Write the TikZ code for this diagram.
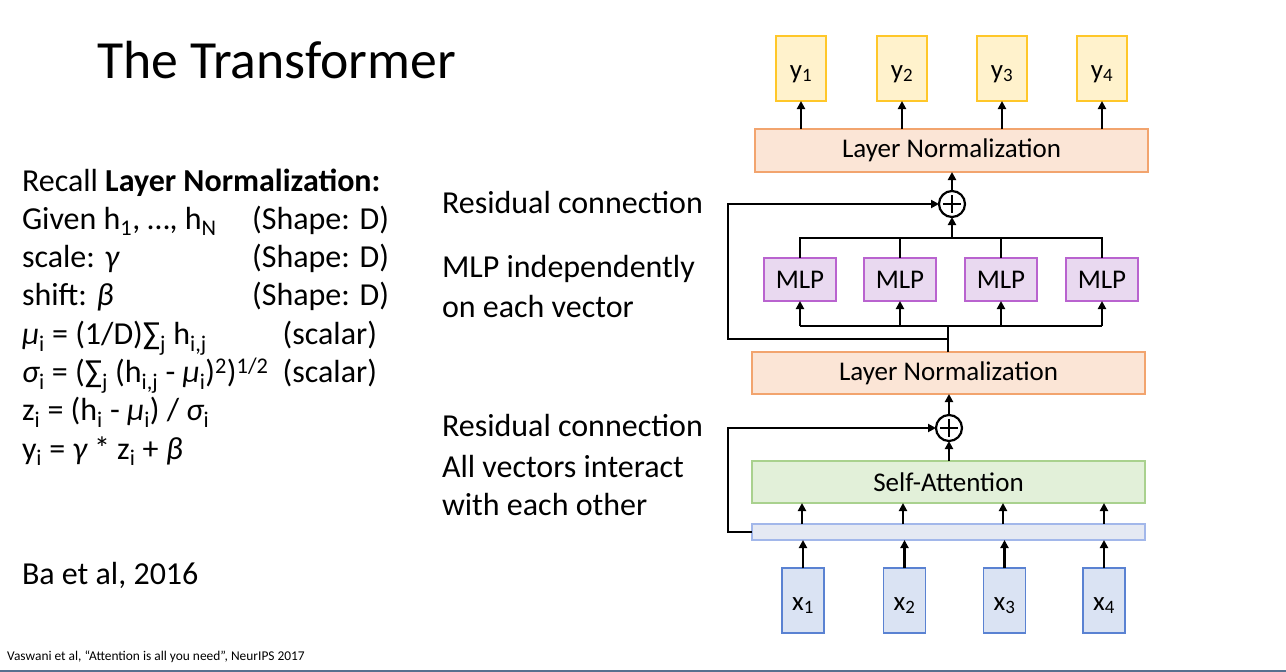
\documentclass[tikz,border=0pt]{standalone}
\usepackage{fontspec}
\setmainfont{Carlito}
\usetikzlibrary{arrows.meta}
\definecolor{yfill}{HTML}{FFF2CC}
\definecolor{ydraw}{HTML}{FFC729}
\definecolor{lnfill}{HTML}{FBE5D6}
\definecolor{lndraw}{HTML}{F2A46E}
\definecolor{mfill}{HTML}{E9D9F0}
\definecolor{mdraw}{HTML}{B963CF}
\definecolor{safill}{HTML}{E2F0D9}
\definecolor{sadraw}{HTML}{A9D18E}
\definecolor{barfill}{HTML}{E5E9F3}
\definecolor{bardraw}{HTML}{A2B7EA}
\definecolor{xfill}{HTML}{DAE3F3}
\definecolor{xdraw}{HTML}{5A82D2}
\definecolor{botline}{HTML}{56708F}
\newcommand\sbs[1]{\textsubscript{#1}}
\newcommand\sps[1]{\textsuperscript{#1}}
\begin{document}
\begin{tikzpicture}[x=1pt,y=-1pt,
  lt/.style={font=\fontsize{32}{38}\selectfont, inner sep=0pt, outer sep=0pt},
  bx/.style={draw, line width=1.5pt, inner sep=0pt, outer sep=0pt, font=\fontsize{27}{31}\selectfont},
  ybox/.style={bx, fill=yfill, draw=ydraw, minimum width=50pt, minimum height=65pt, text height=19pt, text depth=0pt},
  xbox/.style={bx, fill=xfill, draw=xdraw, minimum width=42pt, minimum height=65pt, text height=19pt, text depth=0pt},
  lnbox/.style={bx, fill=lnfill, draw=lndraw, minimum width=393pt, minimum height=43pt},
  mlpbox/.style={bx, fill=mfill, draw=mdraw, minimum width=72pt, minimum height=43pt},
  sabox/.style={bx, fill=safill, draw=sadraw, minimum width=393pt, minimum height=42pt},
  barbox/.style={bx, fill=barfill, draw=bardraw, minimum width=393pt, minimum height=16pt},
  pluscirc/.style={circle, draw, line width=2.2pt, minimum size=26pt, inner sep=0pt, outer sep=0pt, fill=white},
  conn/.style={line width=2.5pt},
  arr/.style={line width=2.5pt, -{Triangle[length=8pt,width=8pt]}}
]
\useasboundingbox (0,0) rectangle (1286,672);

% title
\node[anchor=base west, font=\fontsize{53.7}{60}\selectfont, inner sep=0pt] (title) at (97,78) {The Transformer};

% left text
\node[lt, anchor=base west] (l1) at (22,191) {Recall \textbf{Layer Normalization:}};
\node[lt, anchor=base west] (l2) at (22,229.3) {Given h\sbs{1}, …, h\sbs{N}};
\node[lt, anchor=base east] (l2b) at (389,229.3) {(Shape: D)};
\node[lt, anchor=base west] (l3) at (22,267.6) {scale: {\itshape γ}};
\node[lt, anchor=base east] (l3b) at (389,267.6) {(Shape: D)};
\node[lt, anchor=base west] (l4) at (22,305.9) {shift: {\itshape β}};
\node[lt, anchor=base east] (l4b) at (389,305.9) {(Shape: D)};
\node[lt, anchor=base west] (l5) at (22,344.2) {{\itshape μ}\sbs{i} = (1/D)∑\sbs{j} h\sbs{i,j}};
\node[lt, anchor=base east] (l5b) at (377,344.2) {(scalar)};
\node[lt, anchor=base west] (l6) at (22,382.5) {{\itshape σ}\sbs{i} = (∑\sbs{j} (h\sbs{i,j} - {\itshape μ}\sbs{i})\sps{2})\sps{1/2}};
\node[lt, anchor=base east] (l6b) at (377,382.5) {(scalar)};
\node[lt, anchor=base west] (l7) at (22,420.8) {z\sbs{i} = (h\sbs{i} - {\itshape μ}\sbs{i}) / {\itshape σ}\sbs{i}};
\node[lt, anchor=base west] (l8) at (22,459.1) {y\sbs{i} = {\itshape γ} * z\sbs{i} + {\itshape β}};
\node[lt, anchor=base west] (ba) at (22,584) {Ba et al, 2016};

% middle labels
\node[lt, anchor=base west] (m1l) at (442,213) {Residual connection};
\node[lt, anchor=base west] (m2l) at (442,277) {MLP independently};
\node[lt, anchor=base west] (m3l) at (442,317) {on each vector};
\node[lt, anchor=base west] (m4l) at (442,436) {Residual connection};
\node[lt, anchor=base west] (m5l) at (442,477) {All vectors interact};
\node[lt, anchor=base west] (m6l) at (442,515) {with each other};

% footer
\node[anchor=base west, font=\fontsize{13.4}{15}\selectfont, inner sep=0pt] (foot) at (7,660) {Vaswani et al, “Attention is all you need”, NeurIPS 2017};
\draw[line width=2pt, botline] (0,671) -- (1286,671);

% diagram nodes
\node[ybox] (y1) at (801,68.5) {y\sbs{1}};
\node[ybox] (y2) at (902,68.5) {y\sbs{2}};
\node[ybox] (y3) at (1002,68.5) {y\sbs{3}};
\node[ybox] (y4) at (1102,68.5) {y\sbs{4}};
\node[lnbox] (ln1) at (951.5,150.5) {Layer Normalization};
\node[pluscirc] (p1) at (952,204) {};
\node[mlpbox] (mp1) at (800,279.5) {MLP};
\node[mlpbox] (mp2) at (900,279.5) {MLP};
\node[mlpbox] (mp3) at (1001,279.5) {MLP};
\node[mlpbox] (mp4) at (1102,279.5) {MLP};
\node[lnbox, minimum height=42pt] (ln2) at (948.5,373) {Layer Normalization};
\node[pluscirc] (p2) at (949,428) {};
\node[sabox] (sa) at (948.5,482) {Self-Attention};
\node[barbox] (bar) at (948.5,532) {};
\node[xbox] (x1) at (803,600.5) {x\sbs{1}};
\node[xbox] (x2) at (904.5,600.5) {x\sbs{2}};
\node[xbox] (x3) at (1004.5,600.5) {x\sbs{3}};
\node[xbox] (x4) at (1104,600.5) {x\sbs{4}};

% plus signs
\draw[line width=2pt] (p1.center) ++(-9,0) -- ++(18,0);
\draw[line width=2pt] (p1.center) ++(0,-9) -- ++(0,18);
\draw[line width=2pt] (p2.center) ++(-9,0) -- ++(18,0);
\draw[line width=2pt] (p2.center) ++(0,-9) -- ++(0,18);

% coordinates
\coordinate (ob) at (952,238);
\coordinate (ib) at (948,326);
\coordinate (rb1) at (948,339);
\coordinate (c1) at (728,204);
\coordinate (c2) at (728,428);

% LN1 -> y
\foreach \i in {1,2,3,4} {
  \draw[arr] (y\i.south |- ln1.north) -- (y\i.south);
}
\draw[arr] (p1.north) -- (p1.north |- ln1.south);

% MLP output bus
\draw[conn] (mp1.north) |- (ob) -| (mp4.north);
\draw[conn] (mp2.north) -- (mp2.north |- ob);
\draw[conn] (mp3.north) -- (mp3.north |- ob);
\draw[arr] (ob) -- (p1.south);

% MLP input bus
\draw[conn] (mp1.south |- ib) -- (mp4.south |- ib);
\foreach \i in {1,2,3,4} {
  \draw[arr] (mp\i.south |- ib) -- (mp\i.south);
}
\draw[conn] (ln2.north -| ib) -- (ib);
\draw[arr] (rb1) -| (c1) -- (p1.west);

% lower part
\draw[arr] (p2.north) -- (p2.north |- ln2.south);
\draw[arr] (sa.north -| p2) -- (p2.south);
\draw[arr] (bar.west) -| (c2) -- (p2.west);
\foreach \i/\xx in {1/802,2/903,3/1003,4/1104} {
  \draw[arr] (\xx,524) coordinate (bt\i) (bt\i |- bar.north) -- (bt\i |- sa.south);
}
\foreach \i in {1,2,3,4} {
  \draw[arr] (x\i.north) -- (x\i.north |- bar.south);
}
\end{tikzpicture}
\end{document}
